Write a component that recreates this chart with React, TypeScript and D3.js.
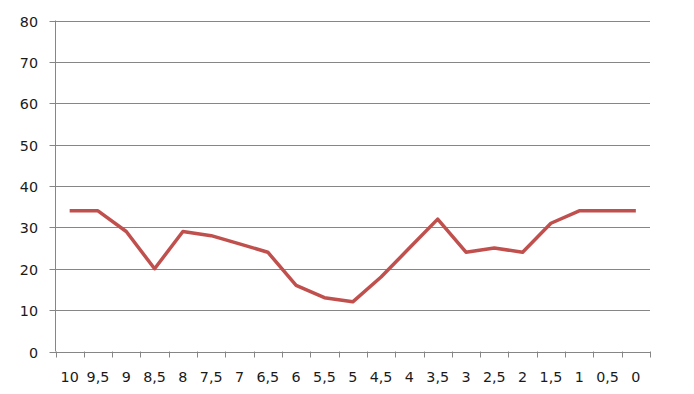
import React from "react";
import * as d3 from "d3";

const categories = ["10","9,5","9","8,5","8","7,5","7","6,5","6","5,5","5","4,5","4","3,5","3","2,5","2","1,5","1","0,5","0"];
const values = [34,34,29,20,29,28,26,24,16,13,12,18,25,32,24,25,24,31,34,34,34];
const yTicks = [0,10,20,30,40,50,60,70,80];

const W = 694, H = 394;
const left = 55.5, right = 650, top = 20.5, bottom = 351.5;

export default function App() {
  const x = d3.scaleBand<string>().domain(categories).range([left, right]).padding(0);
  const y = d3.scaleLinear().domain([0, 80]).range([bottom, top]);
  const line = d3.line<number>()
    .x((_, i) => (x(categories[i]) as number) + x.bandwidth() / 2)
    .y((d) => y(d));
  const grid = "#868686";
  const font = "'DejaVu Sans', sans-serif";
  const bounds = categories.map((c) => x(c) as number).concat([right]);
  return (
    <svg width={W} height={H} style={{ position: "absolute", left: 0, top: 0, background: "#fff" }}>
      {yTicks.map((t) => (
        <g key={t}>
          <line x1={left - 6} x2={right} y1={Math.round(y(t)) + 0.5} y2={Math.round(y(t)) + 0.5} stroke={grid} strokeWidth={1} />
          <text x={38} y={Math.round(y(t)) + 0.5} dy="0.36em" textAnchor="end" fontFamily={font} fontSize={14.3} fill="#1a1a1a">{t}</text>
        </g>
      ))}
      <line x1={left} x2={left} y1={top} y2={bottom} stroke={grid} strokeWidth={1} />
      {bounds.map((b, i) => (
        <line key={i} x1={Math.round(b) + 0.5} x2={Math.round(b) + 0.5} y1={bottom} y2={bottom + 6} stroke={grid} strokeWidth={1} />
      ))}
      {categories.map((c) => (
        <text key={c} x={(x(c) as number) + x.bandwidth() / 2} y={376.5} dy="0.36em" textAnchor="middle" fontFamily={font} fontSize={14.3} fill="#1a1a1a">{c}</text>
      ))}
      <path d={line(values) || ""} fill="none" stroke="#C0504D" strokeWidth={3.5} strokeLinejoin="round" />
    </svg>
  );
}
